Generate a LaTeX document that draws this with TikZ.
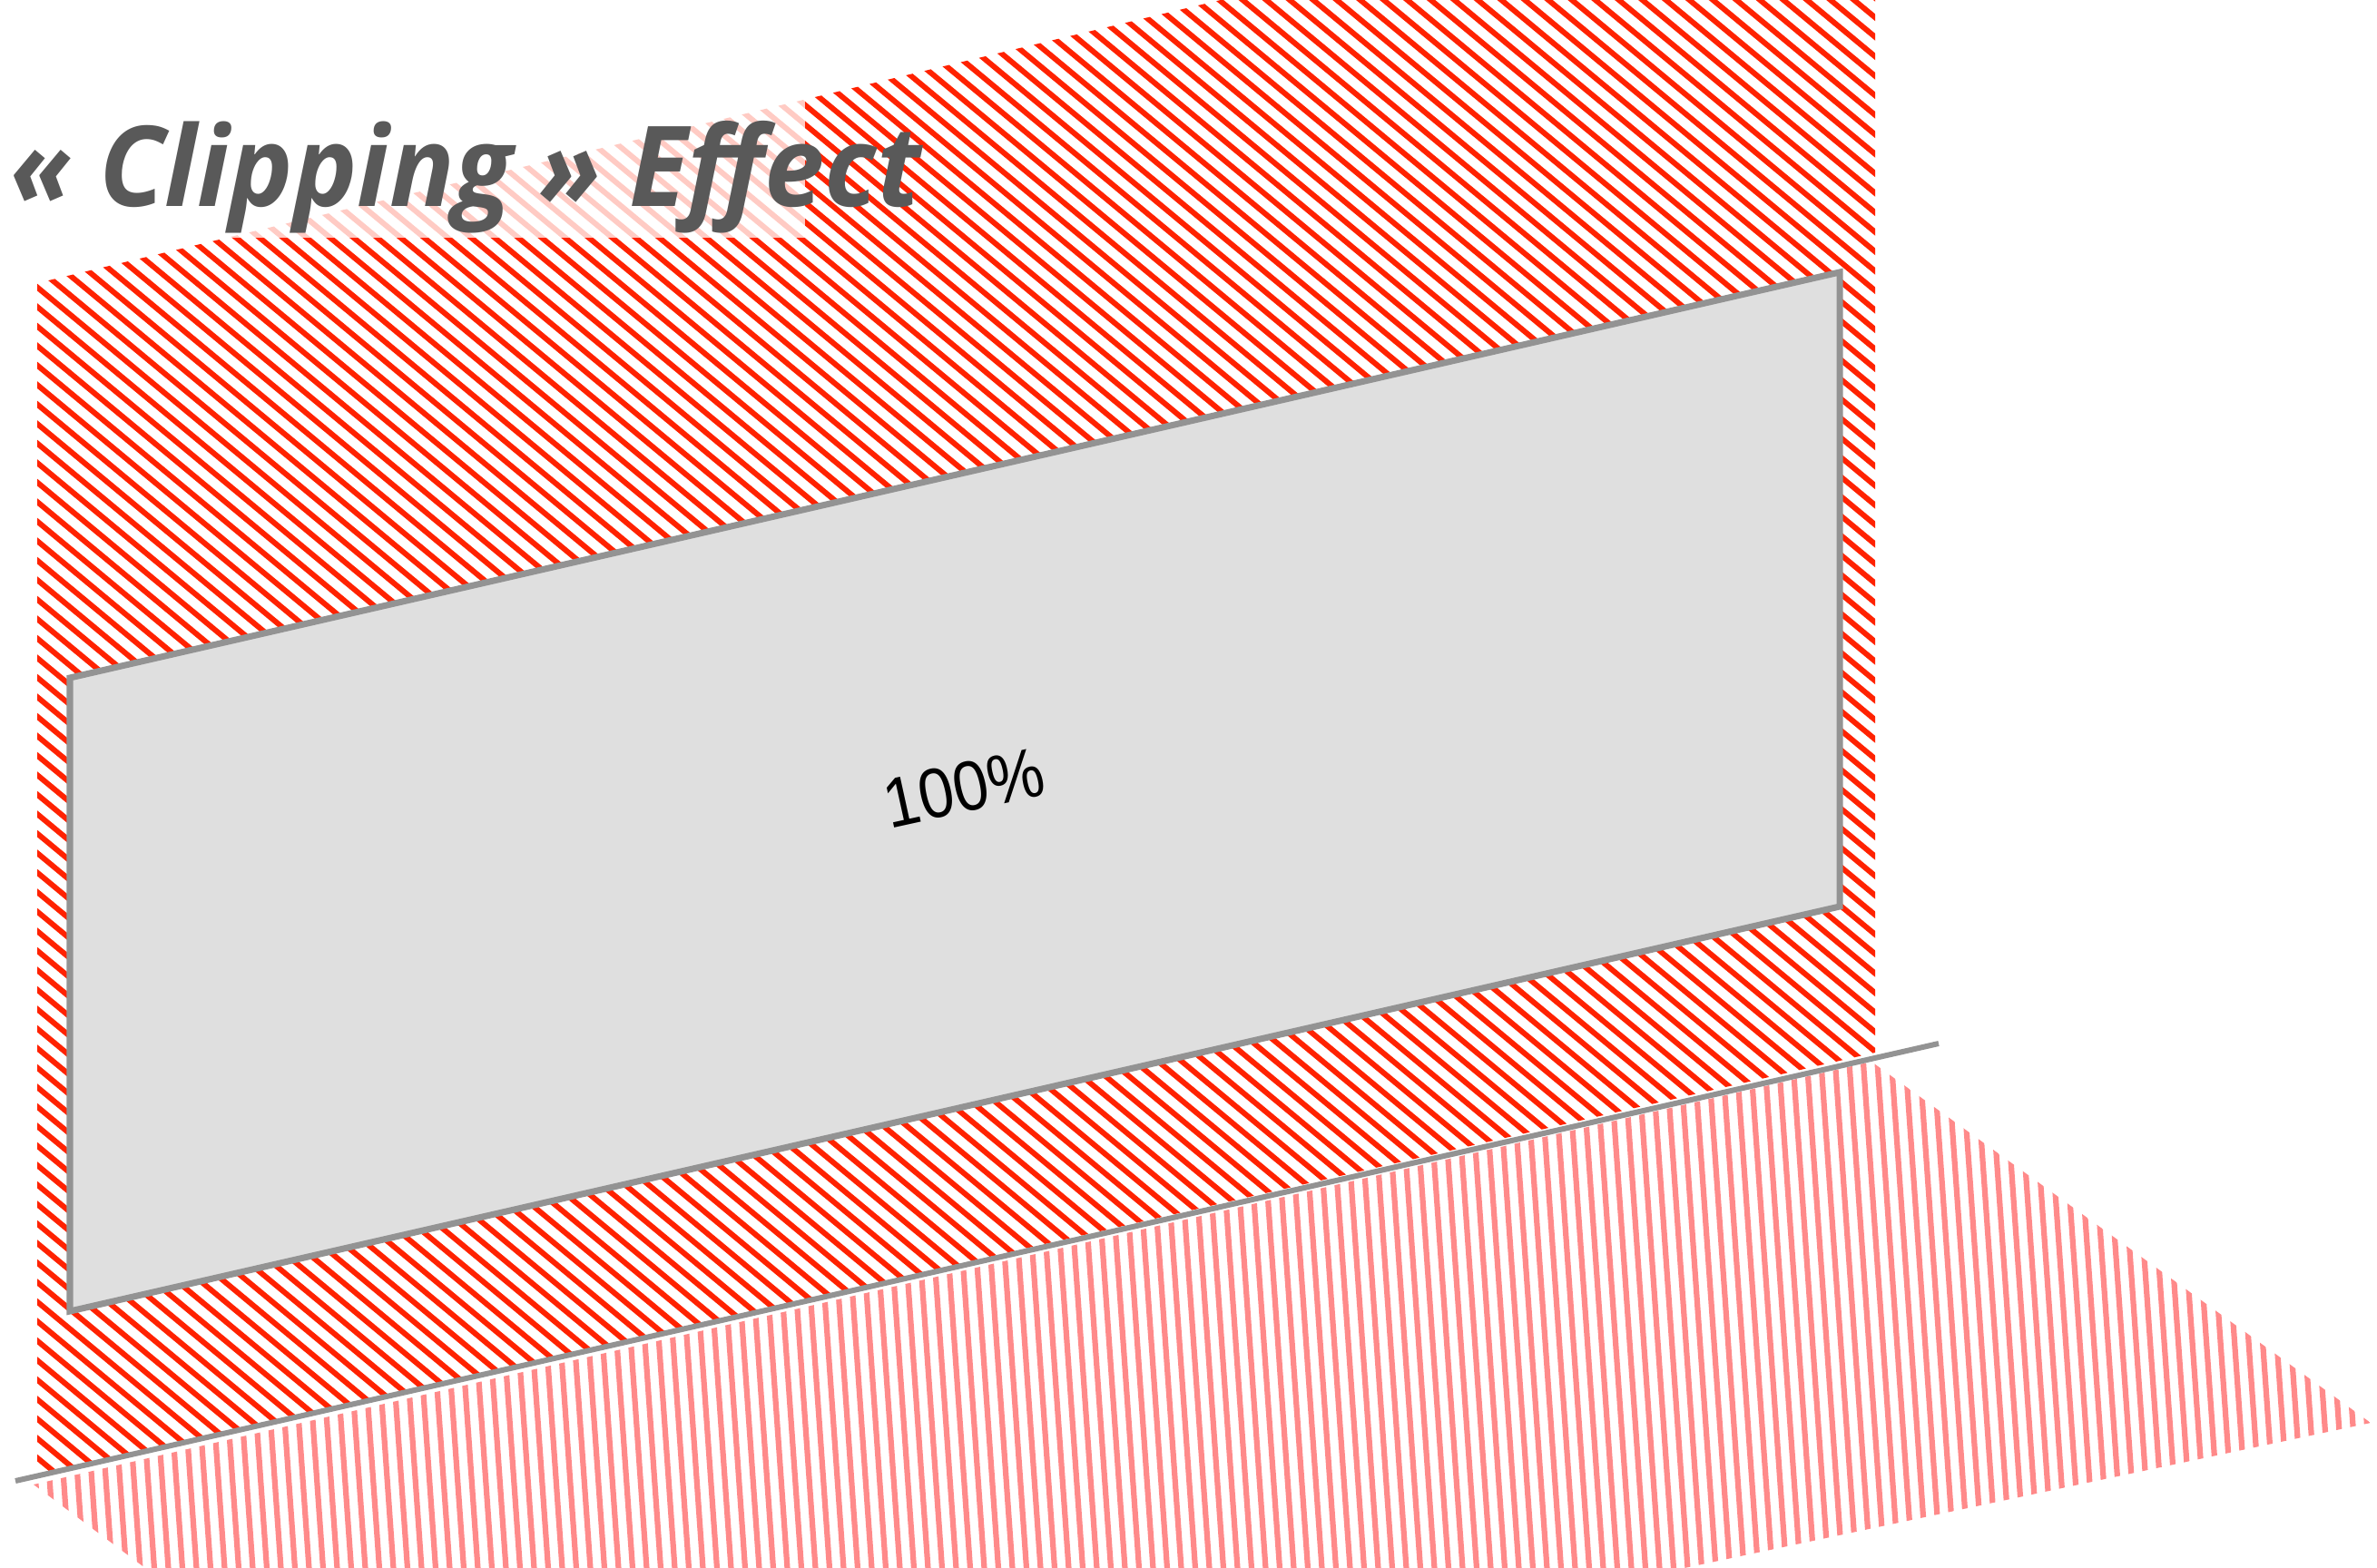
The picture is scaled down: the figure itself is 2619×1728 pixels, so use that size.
\documentclass[tikz,border=0pt]{standalone}
\usepackage{xcolor}
\usepackage{fontspec}
\newfontfamily\titlefont{Open Sans}
\newfontfamily\labelfont{Liberation Sans}
\usepackage{tikz}
\usetikzlibrary{positioning}

\definecolor{wallred}{RGB}{255,34,0}
\definecolor{floorpink}{RGB}{255,138,138}
\definecolor{panelfill}{RGB}{223,223,223}
\definecolor{panelline}{RGB}{147,147,147}
\definecolor{titlegray}{RGB}{89,89,89}

\begin{document}
\begin{tikzpicture}[x=0.01cm, y=-0.01cm]
\tikzstyle{wallhatch} = [draw=wallred, line width=0.06cm]
\tikzstyle{floorhatch} = [draw=floorpink, line width=0.062cm]
\tikzstyle{edge} = [draw=panelline, line width=0.07cm, line join=miter]
\tikzstyle{title} = [anchor=base west, inner sep=0pt, xscale=0.965, text=titlegray, font=\titlefont\bfseries\itshape\fontsize{35}{35}\selectfont]
\tikzstyle{value} = [inner sep=0pt, text=black, rotate=12.4, xscale=0.9, font=\labelfont\fontsize{22}{22}\selectfont]

\useasboundingbox (0,0) rectangle (2619,1728);

% floor
\begin{scope}
\clip (37,1636) -- (2062,1170) -- (2612,1568) -- (1856,1728) -- (160,1728) -- cycle;
\foreach \x in {-60,-44.5,...,2660}
  \draw[floorhatch] (\x,1100) -- ++(49,700);
\end{scope}

% wall
\begin{scope}
\clip (41,312) -- (1345,0) -- (2066,0) -- (2066,1160) -- (41,1627) -- cycle;
\foreach \c in {-1760,-1738.5,...,1650}
  \draw[wallhatch] (0,\c) -- ++(2100,1743);
\end{scope}

\fill[white, opacity=0.77] (0,0) rectangle (887,262);
\node[title] (heading) at (11,228) {« Clipping » Effect};

\coordinate (tl) at (77,747);
\coordinate (tr) at (2027,300);
\coordinate (br) at (2027,999);
\coordinate (bl) at (77,1445);
\filldraw[edge, fill=panelfill] (tl) -- (tr) -- (br) -- (bl) -- cycle;
\node[value] (level) at (1062,868) {100\%};

\coordinate (groundL) at (17,1632);
\coordinate (groundR) at (2136,1150);
\draw[edge, line width=0.06cm] (groundL) -- (groundR);
\end{tikzpicture}
\end{document}
